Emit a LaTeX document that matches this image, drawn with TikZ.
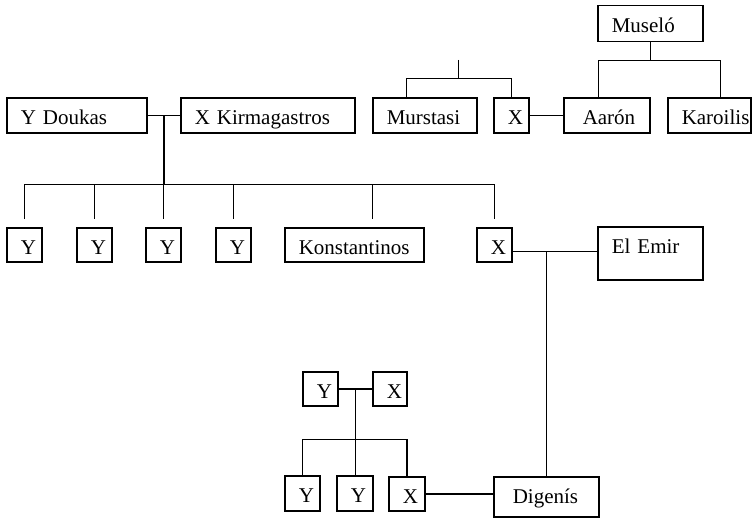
\documentclass[tikz,border=0pt]{standalone}
\usepackage{fontspec}
\newfontfamily\famfont{Liberation Serif}
\usetikzlibrary{positioning, calc}

\begin{document}
\begin{tikzpicture}[x=1pt, y=-1pt,
  lpad/.store in=\lpadw, lpad=14pt,
  person/.style 2 args={draw, line width=1.5pt, anchor=north west, inner sep=0pt,
    text width=#1, text height=26.5pt, text depth=#2, align=left,
    font=\famfont\fontsize{21}{25}\selectfont,
    execute at begin node={\noindent\hspace*{\lpadw}}},
  link/.style={line width=1.5pt}
]
    \useasboundingbox (0,0) rectangle (752,519);

    % top row
    \node[person={140pt}{8.5pt}] (doukas) at (6,97) {Y Doukas};
    \node[person={174pt}{8.5pt}] (kirma) at (180,97) {X Kirmagastros};
    \node[person={104pt}{8.5pt}] (murstasi) at (372,97) {Murstasi};
    \node[person={35pt}{8.5pt}] (xtop) at (493,97) {X};
    \node[person={86pt}{8.5pt}, lpad=19pt] (aaron) at (563,97) {Aarón};
    \node[person={83pt}{8.5pt}] (karoilis) at (667,97) {Karoilis};
    \node[person={105pt}{9.5pt}] (muselo) at (597,5) {Museló};

    % children of Doukas and Kirmagastros
    \foreach \i/\xx in {1/6, 2/76, 3/145, 4/215}
        \node[person={35pt}{7.5pt}] (y\i) at (\xx,227) {Y};
    \node[person={139pt}{7.5pt}] (konst) at (284,227) {Konstantinos};
    \node[person={35pt}{7.5pt}] (xmid) at (476,227) {X};
    \node[person={105pt}{26.5pt}] (emir) at (597,226) {El Emir};

    % bottom family
    \node[person={35pt}{7.5pt}] (ysm) at (302,371) {Y};
    \node[person={34pt}{7.5pt}] (xsm) at (372,371) {X};
    \node[person={35pt}{8.5pt}] (yb1) at (284,475) {Y};
    \node[person={36pt}{8.5pt}] (yb2) at (336,475) {Y};
    \node[person={36pt}{7.5pt}] (xb) at (388,476) {X};
    \node[person={105pt}{13.5pt}, lpad=19pt] (digenis) at (493,476) {Digenís};

    % Museló and the top couples
    \coordinate (bar0) at (0,78.5);
    \coordinate (bar2) at (0,60.5);
    \coordinate (murtop) at (458.5,60);
    \coordinate (mdrop) at ($(murstasi.north)+(-18.5,0)$);
    \coordinate (adrop) at ($(aaron.north)+(-8.5,0)$);
    \coordinate (kdrop) at ($(karoilis.north)+(11,0)$);
    \draw[link] (mdrop) |- (xtop.north |- bar0) -- (xtop.north);
    \draw[link] (murtop) -- (murtop |- bar0);
    \draw[link] (adrop) |- (kdrop |- bar2) -- (kdrop);
    \draw[link] (muselo) -- (muselo.south |- bar2);
    \draw[link] (xtop) -- (aaron);

    % Doukas family
    \coordinate (wed1) at ($(doukas.east)!.5!(kirma.west)$);
    \coordinate (bar1) at (0,184.5);
    \coordinate (kondrop) at ($(konst.north)+(18,0)$);
    \draw[link] (doukas) -- (kirma);
    \draw[link] (wed1) -- (wed1 |- bar1);
    \draw[link] ($(y1.north)+(0,-8)$) -- (y1.north |- bar1) -- (xmid.north |- bar1) -- ($(xmid.north)+(0,-8)$);
    \foreach \n in {y2, y3, y4}
        \draw[link] (\n.north |- bar1) -- ($(\n.north)+(0,-8)$);
    \draw[link] (kondrop |- bar1) -- ($(kondrop)+(0,-8)$);

    % El Emir
    \coordinate (wed2) at (digenis.north |- 0,251.5);
    \draw[link] (xmid.east |- wed2) -- (emir.west |- wed2);
    \draw[link] (wed2) -- (digenis.north);

    % Digenís family
    \coordinate (wed3) at ($(ysm.east)!.5!(xsm.west)$);
    \coordinate (bar3) at (0,439.5);
    \draw[link] (ysm) -- (xsm);
    \draw[link] (wed3) -- (wed3 |- yb2.north);
    \draw[link] (yb1.north) |- (xb.north |- bar3) -- (xb.north);
    \draw[link] (xb.east) -- (xb.east -| digenis.west);
\end{tikzpicture}
\end{document}
